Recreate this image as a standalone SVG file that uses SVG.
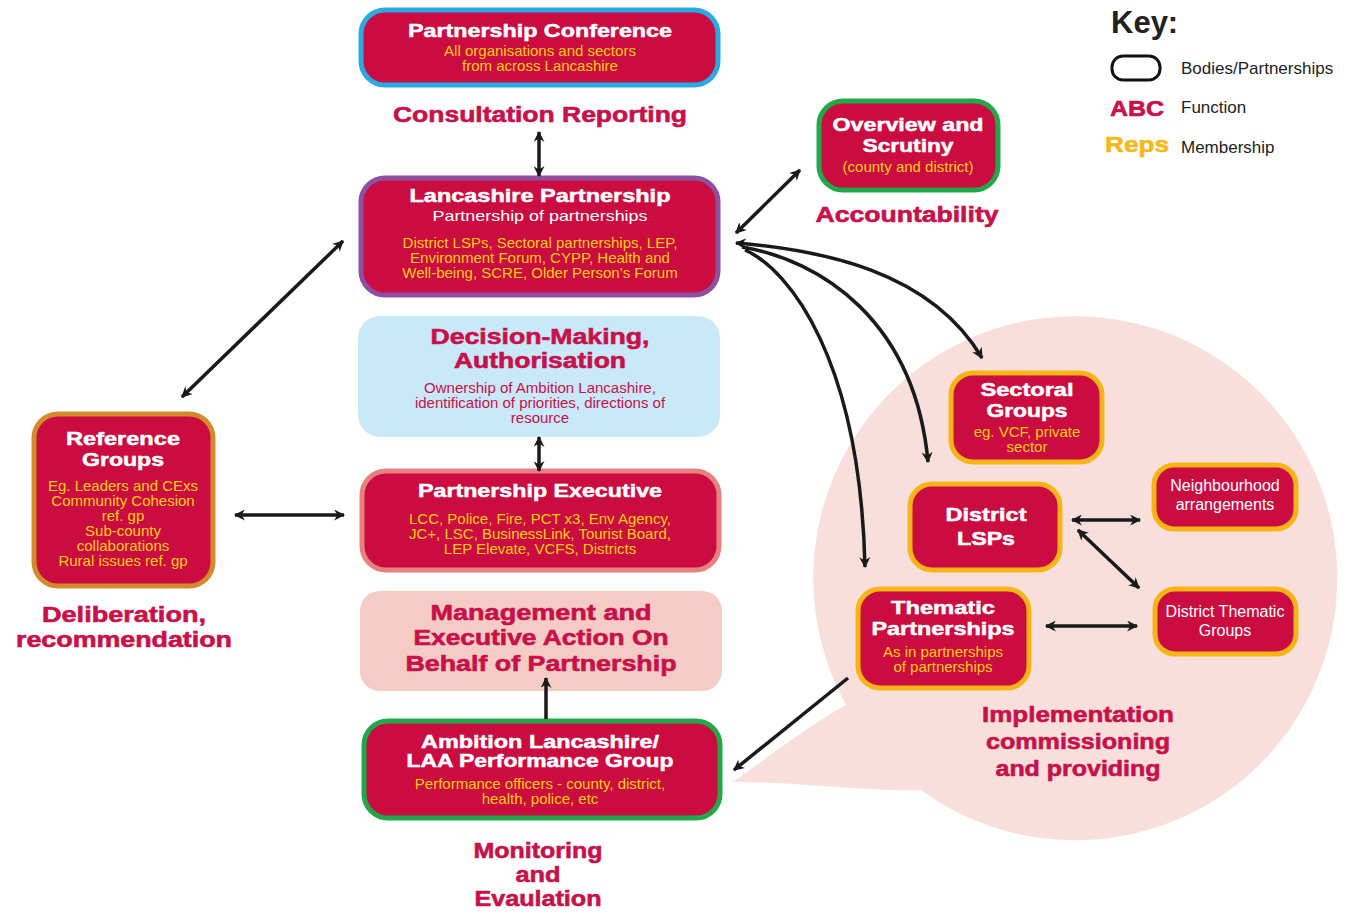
<svg xmlns="http://www.w3.org/2000/svg" width="1349" height="914" viewBox="0 0 1349 914">
<defs>
<style>
.box{fill:#cb0c41;stroke-width:5}
.t{font-family:"Liberation Sans",Arial,sans-serif;font-weight:bold;fill:#fff;text-anchor:middle;font-size:19px;stroke:#fff;stroke-width:0.5}
.s{font-family:"Liberation Sans",Arial,sans-serif;fill:#fff;text-anchor:middle;font-size:15px}
.w{font-family:"Liberation Sans",Arial,sans-serif;fill:#fff;text-anchor:middle;font-size:16px}
.y{font-family:"Liberation Sans",Arial,sans-serif;fill:#ffcf0f;text-anchor:middle;font-size:15px}
.r{font-family:"Liberation Sans",Arial,sans-serif;fill:#c8104a;text-anchor:middle;font-size:15px}
.f{font-family:"Liberation Sans",Arial,sans-serif;font-weight:bold;fill:#c8104a;text-anchor:middle;font-size:22px;stroke:#c8104a;stroke-width:0.6}
.k{font-family:"Liberation Sans",Arial,sans-serif;fill:#222;font-size:17px}
.c{fill:none;stroke:#1a1a1a;stroke-width:3.5}
</style>
<marker id="ah" viewBox="0 0 10 10" refX="9" refY="5" markerUnits="userSpaceOnUse" markerWidth="15" markerHeight="11" orient="auto-start-reverse">
<path d="M0,0 L10,5 L0,10 L3,5 z" fill="#1a1a1a"/>
</marker>
</defs>
<rect width="1349" height="914" fill="#fff"/>

<!-- implementation blob -->
<path id="blob" d="M 846 705 A 262 262 0 1 1 921 790 C 870 792 800 782 733 782 C 780 748 815 722 846 705 Z" fill="#f8dfdb"/>

<g id="partnership-conference">
<rect class="box" x="361" y="10" width="357" height="75" rx="24" stroke="#2aa9e2"/>
<text class="t" x="540" y="37" textLength="264" lengthAdjust="spacingAndGlyphs">Partnership Conference</text>
<text class="y" x="540" y="56">All organisations and sectors</text>
<text class="y" x="540" y="71">from across Lancashire</text>
</g>
<text class="f" x="540" y="122" textLength="294" lengthAdjust="spacingAndGlyphs">Consultation Reporting</text>

<g id="lancashire-partnership">
<rect class="box" x="361" y="178" width="357" height="117" rx="24" stroke="#8d4f9e"/>
<text class="t" x="540" y="202" textLength="261" lengthAdjust="spacingAndGlyphs">Lancashire Partnership</text>
<text class="s" x="540" y="221" textLength="215" lengthAdjust="spacingAndGlyphs">Partnership of partnerships</text>
<text class="y" x="540" y="248">District LSPs, Sectoral partnerships, LEP,</text>
<text class="y" x="540" y="263">Environment Forum, CYPP, Health and</text>
<text class="y" x="540" y="278">Well-being, SCRE, Older Person’s Forum</text>
</g>

<g id="decision-making">
<rect x="358" y="316" width="362" height="121" rx="22" fill="#c9e9f8"/>
<text class="f" x="540" y="344" textLength="219" lengthAdjust="spacingAndGlyphs">Decision-Making,</text>
<text class="f" x="540" y="368" textLength="172" lengthAdjust="spacingAndGlyphs">Authorisation</text>
<text class="r" x="540" y="393">Ownership of Ambition Lancashire,</text>
<text class="r" x="540" y="408">identification of priorities, directions of</text>
<text class="r" x="540" y="423">resource</text>
</g>

<g id="partnership-executive">
<rect class="box" x="362" y="471" width="357" height="99" rx="24" stroke="#e8807f"/>
<text class="t" x="540" y="497" textLength="244" lengthAdjust="spacingAndGlyphs">Partnership Executive</text>
<text class="y" x="540" y="524">LCC, Police, Fire, PCT x3, Env Agency,</text>
<text class="y" x="540" y="539">JC+, LSC, BusinessLink, Tourist Board,</text>
<text class="y" x="540" y="554">LEP Elevate, VCFS, Districts</text>
</g>

<g id="management">
<rect x="360" y="591" width="362" height="100" rx="20" fill="#f5cbc5"/>
<text class="f" x="541" y="620" textLength="221" lengthAdjust="spacingAndGlyphs">Management and</text>
<text class="f" x="541" y="645" textLength="255" lengthAdjust="spacingAndGlyphs">Executive Action On</text>
<text class="f" x="541" y="671" textLength="271" lengthAdjust="spacingAndGlyphs">Behalf of Partnership</text>
</g>

<g id="ambition-lancashire">
<rect class="box" x="364" y="721" width="356" height="97" rx="24" stroke="#22a84a"/>
<text class="t" x="540" y="748" textLength="238" lengthAdjust="spacingAndGlyphs">Ambition Lancashire/</text>
<text class="t" x="540" y="767" textLength="267" lengthAdjust="spacingAndGlyphs">LAA Performance Group</text>
<text class="y" x="540" y="789">Performance officers - county, district,</text>
<text class="y" x="540" y="804">health, police, etc</text>
</g>
<text class="f" x="538" y="858" textLength="129" lengthAdjust="spacingAndGlyphs">Monitoring</text>
<text class="f" x="538" y="882" textLength="45" lengthAdjust="spacingAndGlyphs">and</text>
<text class="f" x="538" y="906" textLength="127" lengthAdjust="spacingAndGlyphs">Evaulation</text>

<g id="reference-groups">
<rect class="box" x="34" y="414" width="179" height="172" rx="24" stroke="#d48a2c"/>
<text class="t" x="123" y="445" textLength="114" lengthAdjust="spacingAndGlyphs">Reference</text>
<text class="t" x="123" y="466" textLength="82" lengthAdjust="spacingAndGlyphs">Groups</text>
<text class="y" x="123" y="491">Eg. Leaders and CExs</text>
<text class="y" x="123" y="506">Community Cohesion</text>
<text class="y" x="123" y="521">ref. gp</text>
<text class="y" x="123" y="536">Sub-county</text>
<text class="y" x="123" y="551">collaborations</text>
<text class="y" x="123" y="566">Rural issues ref. gp</text>
</g>
<text class="f" x="124" y="622" textLength="164" lengthAdjust="spacingAndGlyphs">Deliberation,</text>
<text class="f" x="124" y="647" textLength="216" lengthAdjust="spacingAndGlyphs">recommendation</text>

<g id="overview-scrutiny">
<rect class="box" x="819" y="101" width="179" height="89" rx="24" stroke="#22a84a"/>
<text class="t" x="908" y="131" textLength="151" lengthAdjust="spacingAndGlyphs">Overview and</text>
<text class="t" x="908" y="152" textLength="91" lengthAdjust="spacingAndGlyphs">Scrutiny</text>
<text class="y" x="908" y="172" font-size="16">(county and district)</text>
</g>
<text class="f" x="907" y="222" textLength="183" lengthAdjust="spacingAndGlyphs">Accountability</text>

<g id="sectoral-groups">
<rect class="box" x="951" y="373" width="151" height="89" rx="22" stroke="#f6b416"/>
<text class="t" x="1027" y="396" textLength="93" lengthAdjust="spacingAndGlyphs">Sectoral</text>
<text class="t" x="1027" y="417" textLength="81" lengthAdjust="spacingAndGlyphs">Groups</text>
<text class="y" x="1027" y="437" font-size="15.5">eg. VCF, private</text>
<text class="y" x="1027" y="452" font-size="15.5">sector</text>
</g>

<g id="district-lsps">
<rect class="box" x="910" y="484" width="150" height="86" rx="22" stroke="#f6b416"/>
<text class="t" x="986" y="521" font-size="20" textLength="81" lengthAdjust="spacingAndGlyphs">District</text>
<text class="t" x="986" y="545" font-size="20" textLength="58" lengthAdjust="spacingAndGlyphs">LSPs</text>
</g>

<g id="neighbourhood">
<rect class="box" x="1154" y="465" width="142" height="64" rx="20" stroke="#f6b416"/>
<text class="w" x="1225" y="491">Neighbourhood</text>
<text class="w" x="1225" y="510">arrangements</text>
</g>

<g id="district-thematic">
<rect class="box" x="1155" y="589" width="141" height="65" rx="20" stroke="#f6b416"/>
<text class="w" x="1225" y="617">District Thematic</text>
<text class="w" x="1225" y="636">Groups</text>
</g>

<g id="thematic-partnerships">
<rect class="box" x="858" y="589" width="171" height="99" rx="22" stroke="#f6b416"/>
<text class="t" x="943" y="614" textLength="104" lengthAdjust="spacingAndGlyphs">Thematic</text>
<text class="t" x="943" y="635" textLength="143" lengthAdjust="spacingAndGlyphs">Partnerships</text>
<text class="y" x="943" y="657" font-size="16">As in partnerships</text>
<text class="y" x="943" y="672" font-size="16">of partnerships</text>
</g>
<text class="f" x="1078" y="722" textLength="192" lengthAdjust="spacingAndGlyphs">Implementation</text>
<text class="f" x="1078" y="749" textLength="184" lengthAdjust="spacingAndGlyphs">commissioning</text>
<text class="f" x="1078" y="776" textLength="165" lengthAdjust="spacingAndGlyphs">and providing</text>

<g id="connectors">
<line class="c" x1="539" y1="132" x2="539" y2="176" marker-start="url(#ah)" marker-end="url(#ah)"/>
<line class="c" x1="539" y1="437" x2="539" y2="471" marker-start="url(#ah)" marker-end="url(#ah)"/>
<line class="c" x1="546" y1="719" x2="546" y2="678" marker-end="url(#ah)"/>
<line class="c" x1="235" y1="515" x2="344" y2="515" marker-start="url(#ah)" marker-end="url(#ah)"/>
<line class="c" x1="182" y1="397" x2="343" y2="241" marker-start="url(#ah)" marker-end="url(#ah)"/>
<line class="c" x1="736" y1="233" x2="800" y2="170" marker-start="url(#ah)" marker-end="url(#ah)"/>
<path class="c" d="M 736 243 C 820 250 930 270 982 358" marker-start="url(#ah)" marker-end="url(#ah)"/>
<path class="c" d="M 742 247 C 820 260 915 320 928 462" marker-end="url(#ah)"/>
<path class="c" d="M 745 250 C 790 270 860 360 865 567" marker-end="url(#ah)"/>
<line class="c" x1="1072" y1="520" x2="1140" y2="520" marker-start="url(#ah)" marker-end="url(#ah)"/>
<line class="c" x1="1078" y1="530" x2="1139" y2="588" marker-start="url(#ah)" marker-end="url(#ah)"/>
<line class="c" x1="1046" y1="626" x2="1137" y2="626" marker-start="url(#ah)" marker-end="url(#ah)"/>
<line class="c" x1="848" y1="678" x2="734" y2="770" marker-end="url(#ah)"/>
</g>

<g id="key">
<text x="1111" y="33" font-family="Liberation Sans, Arial, sans-serif" font-weight="bold" font-size="31" fill="#222">Key:</text>
<rect x="1112" y="56" width="48" height="24" rx="11" fill="none" stroke="#111" stroke-width="3"/>
<text class="k" x="1181" y="74">Bodies/Partnerships</text>
<text class="f" x="1137" y="116" font-size="23" textLength="54" lengthAdjust="spacingAndGlyphs">ABC</text>
<text class="k" x="1181" y="113">Function</text>
<text class="f" x="1137" y="152" font-size="23" style="fill:#f9b81a;stroke:#f9b81a" textLength="64" lengthAdjust="spacingAndGlyphs">Reps</text>
<text class="k" x="1181" y="153">Membership</text>
</g>
</svg>
